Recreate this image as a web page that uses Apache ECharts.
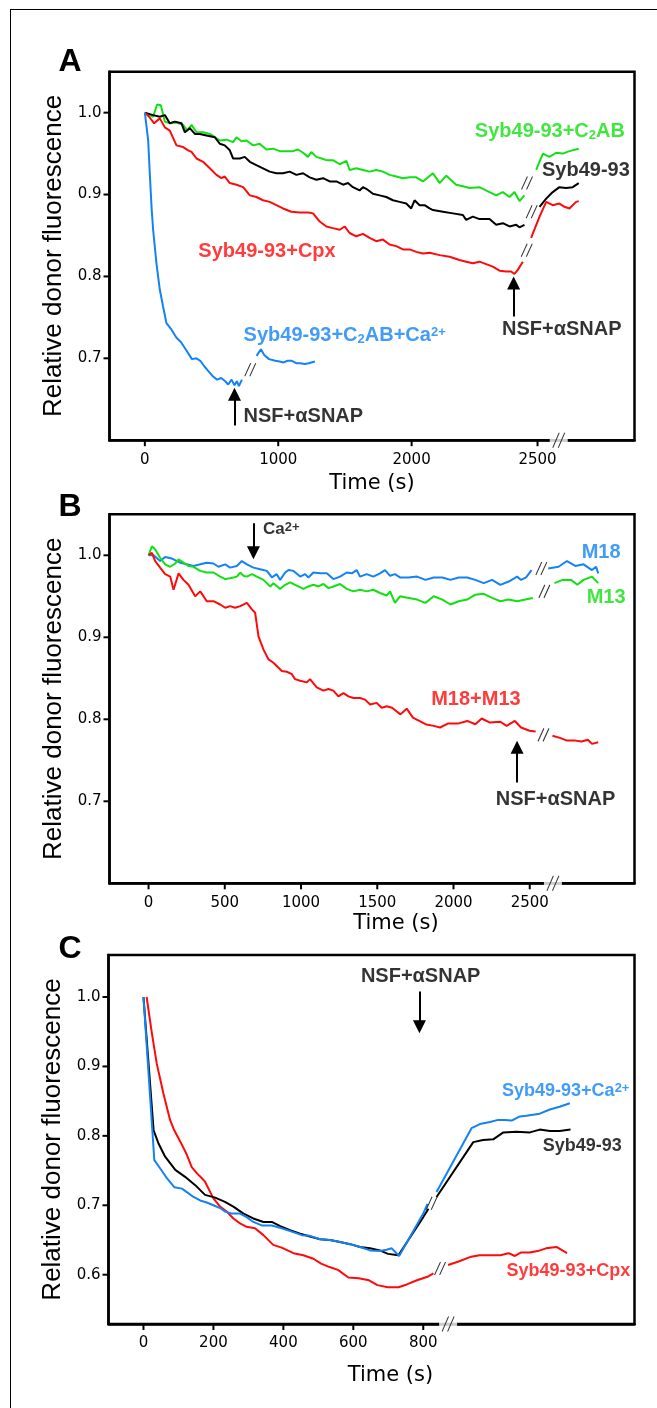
<!DOCTYPE html>
<html>
<head>
<meta charset="utf-8">
<script src="https://cdn.jsdelivr.net/npm/echarts@6/dist/echarts.min.js"></script>
<style>
  html, body { margin: 0; padding: 0; background: #fff; }
  #frame { position: absolute; left: 10px; top: 9px; width: 647px; height: 1399px;
    border-top: 1px solid #000; border-left: 1px solid #000; box-sizing: border-box; }
  #chart { position: absolute; left: 0; top: 0; width: 657px; height: 1408px; }
</style>
</head>
<body>
<div id="frame"></div>
<div id="chart"></div>
<script>
// colours of the traces
const GREEN = '#12e012';
const RED = '#ff0a0a';
const BLUE = '#1282f5';
const INK = '#000';

// ---------- panel A ----------
const aTickValues = [0, 1000, 2000, 2944];
const aTickLabels = ['0', '1000', '2000', '2500'];
const abYTicks = [0.7, 0.8, 0.9, 1.0];

const aGreenBefore = [[0,1.0],[62,0.995],[92,1.010],[120,1.009],[150,0.989],[187,0.987],[237,0.988],[287,0.985],[317,0.978],[350,0.985],[387,0.976],[437,0.976],[487,0.974],[525,0.970],[562,0.966],[612,0.967],[662,0.964],[687,0.970],[725,0.965],[762,0.966],[811,0.960],[861,0.962],[911,0.955],[961,0.956],[1011,0.953],[1061,0.953],[1111,0.953],[1148,0.955],[1186,0.951],[1223,0.946],[1248,0.952],[1286,0.946],[1325,0.944],[1361,0.942],[1410,0.942],[1461,0.937],[1511,0.941],[1535,0.930],[1585,0.932],[1635,0.930],[1685,0.928],[1735,0.930],[1785,0.928],[1835,0.924],[1885,0.922],[1935,0.920],[1985,0.921],[2035,0.921],[2085,0.916],[2160,0.926],[2210,0.914],[2260,0.923],[2334,0.912],[2384,0.910],[2434,0.908],[2509,0.909],[2584,0.903],[2634,0.899],[2684,0.903],[2734,0.897],[2771,0.903],[2809,0.892],[2846,0.899]];
const aGreenAfter = [[2934,0.930],[2984,0.950],[3033,0.946],[3083,0.951],[3133,0.950],[3183,0.953],[3253,0.956]];

const aBlackBefore = [[0,1.0],[62,0.997],[112,0.995],[150,0.997],[187,0.987],[225,0.989],[275,0.987],[300,0.976],[337,0.981],[375,0.974],[412,0.974],[462,0.972],[524,0.970],[562,0.962],[599,0.960],[637,0.954],[662,0.944],[712,0.944],[749,0.946],[787,0.940],[836,0.936],[886,0.932],[936,0.928],[986,0.926],[1036,0.926],[1086,0.928],[1136,0.924],[1186,0.926],[1236,0.921],[1286,0.918],[1336,0.920],[1386,0.916],[1436,0.916],[1486,0.912],[1523,0.914],[1560,0.909],[1610,0.905],[1635,0.909],[1660,0.907],[1710,0.901],[1760,0.899],[1810,0.897],[1860,0.893],[1910,0.891],[1960,0.889],[1997,0.883],[2022,0.893],[2060,0.887],[2097,0.887],[2135,0.883],[2160,0.881],[2235,0.879],[2310,0.877],[2384,0.875],[2409,0.869],[2459,0.873],[2509,0.870],[2584,0.870],[2634,0.863],[2684,0.865],[2734,0.861],[2784,0.863],[2809,0.860],[2846,0.863]];
const aBlackAfter = [[2959,0.885],[3009,0.895],[3058,0.903],[3108,0.909],[3158,0.908],[3208,0.909],[3253,0.914]];

const aRedBefore = [[0,1.0],[32,0.995],[70,0.987],[112,0.993],[150,0.982],[187,0.978],[237,0.960],[287,0.958],[325,0.954],[350,0.952],[387,0.944],[437,0.940],[487,0.932],[537,0.924],[574,0.920],[599,0.922],[637,0.914],[687,0.912],[737,0.909],[787,0.899],[836,0.897],[886,0.893],[936,0.891],[986,0.887],[1036,0.883],[1098,0.879],[1161,0.878],[1223,0.878],[1261,0.877],[1311,0.867],[1361,0.861],[1410,0.859],[1461,0.857],[1498,0.861],[1535,0.853],[1585,0.849],[1635,0.852],[1685,0.847],[1735,0.843],[1785,0.845],[1835,0.839],[1885,0.837],[1935,0.833],[1985,0.833],[2035,0.830],[2085,0.828],[2135,0.829],[2210,0.826],[2285,0.824],[2359,0.820],[2409,0.818],[2459,0.816],[2509,0.818],[2559,0.815],[2609,0.812],[2659,0.807],[2709,0.806],[2746,0.806],[2771,0.803],[2796,0.808],[2834,0.818]];
const aRedAfter = [[2896,0.847],[2959,0.873],[3009,0.891],[3058,0.887],[3108,0.889],[3146,0.885],[3183,0.883],[3233,0.891],[3253,0.892]];

const aBlueBefore = [[0,1.0],[25,0.966],[37,0.926],[50,0.885],[62,0.857],[87,0.816],[112,0.784],[137,0.763],[162,0.743],[200,0.735],[237,0.725],[270,0.720],[306,0.711],[353,0.699],[385,0.700],[416,0.697],[447,0.690],[478,0.684],[510,0.678],[541,0.674],[572,0.676],[603,0.672],[625,0.668],[650,0.674],[672,0.667],[690,0.672],[705,0.666],[728,0.674]];
const aBlueAfter = [[838,0.703],[870,0.711],[895,0.704],[931,0.699],[978,0.697],[1010,0.696],[1040,0.695],[1070,0.697],[1103,0.697],[1135,0.694],[1165,0.694],[1200,0.693],[1228,0.694],[1275,0.696]];

const aBreaks = [[790,0.686],[2865,0.914],[2900,0.879],[2863,0.832]];

// ---------- panel B ----------
const bTickValues = [0, 500, 1000, 1500, 2000, 2500];
const bTickLabels = ['0', '500', '1000', '1500', '2000', '2500'];

const bBlueBefore = [[0,1.0],[33,1.0],[76,0.993],[109,0.998],[153,0.996],[208,0.991],[251,0.989],[295,0.987],[339,0.989],[382,0.991],[426,0.990],[459,0.986],[503,0.989],[535,0.985],[579,0.987],[612,0.993],[645,0.989],[688,0.985],[732,0.983],[776,0.981],[809,0.973],[841,0.977],[863,0.970],[896,0.979],[918,0.982],[951,0.981],[994,0.974],[1027,0.977],[1048,0.973],[1081,0.979],[1125,0.978],[1169,0.978],[1212,0.971],[1256,0.974],[1300,0.979],[1333,0.978],[1365,0.982],[1387,0.974],[1431,0.977],[1474,0.974],[1518,0.978],[1551,0.982],[1584,0.975],[1616,0.977],[1649,0.973],[1706,0.973],[1761,0.974],[1816,0.970],[1870,0.973],[1927,0.973],[1980,0.970],[2034,0.973],[2090,0.973],[2143,0.970],[2198,0.966],[2253,0.970],[2307,0.964],[2362,0.968],[2417,0.974],[2443,0.970],[2476,0.973],[2512,0.982]];
const bBlueAfter = [[2621,0.984],[2689,0.986],[2744,0.993],[2799,0.987],[2853,0.989],[2908,0.982],[2935,0.986],[2949,0.978]];

const bGreenBefore = [[0,1.0],[22,1.011],[44,1.007],[76,0.997],[109,0.989],[142,0.986],[175,0.990],[197,0.995],[229,0.991],[262,0.987],[295,0.986],[339,0.981],[382,0.979],[426,0.979],[470,0.974],[503,0.971],[535,0.972],[579,0.974],[601,0.979],[623,0.975],[645,0.974],[678,0.977],[710,0.974],[754,0.970],[798,0.962],[819,0.966],[863,0.959],[896,0.964],[929,0.967],[972,0.963],[1016,0.959],[1048,0.962],[1081,0.964],[1114,0.962],[1147,0.965],[1180,0.960],[1212,0.962],[1256,0.965],[1300,0.959],[1343,0.956],[1387,0.958],[1431,0.956],[1474,0.958],[1518,0.954],[1562,0.951],[1584,0.956],[1616,0.942],[1649,0.950],[1706,0.948],[1761,0.946],[1816,0.942],[1870,0.950],[1927,0.946],[1980,0.940],[2034,0.944],[2090,0.946],[2143,0.952],[2198,0.953],[2253,0.948],[2307,0.944],[2362,0.946],[2417,0.944],[2471,0.946],[2520,0.948]];
const bGreenAfter = [[2662,0.966],[2716,0.970],[2771,0.970],[2812,0.964],[2853,0.970],[2908,0.974],[2949,0.966]];

const bRedBefore = [[0,1.0],[22,1.003],[44,0.993],[76,0.985],[109,0.977],[142,0.974],[164,0.958],[197,0.978],[229,0.970],[262,0.964],[306,0.950],[339,0.956],[382,0.944],[426,0.944],[470,0.940],[503,0.936],[535,0.938],[568,0.936],[601,0.938],[645,0.942],[678,0.934],[699,0.930],[721,0.901],[754,0.885],[787,0.873],[819,0.869],[874,0.859],[907,0.858],[940,0.855],[961,0.849],[994,0.847],[1038,0.845],[1059,0.849],[1103,0.839],[1147,0.835],[1180,0.837],[1212,0.835],[1245,0.828],[1278,0.832],[1311,0.828],[1343,0.826],[1387,0.826],[1420,0.824],[1453,0.818],[1496,0.820],[1529,0.814],[1562,0.816],[1597,0.814],[1652,0.806],[1693,0.813],[1734,0.802],[1816,0.794],[1870,0.792],[1912,0.790],[1966,0.795],[2034,0.795],[2090,0.798],[2143,0.794],[2185,0.801],[2239,0.796],[2307,0.797],[2348,0.792],[2402,0.798],[2443,0.790],[2499,0.786],[2539,0.785]];
const bRedAfter = [[2649,0.780],[2703,0.777],[2744,0.774],[2799,0.774],[2840,0.773],[2881,0.775],[2908,0.770],[2949,0.772]];

const bBreaks = [[2576,0.984],[2596,0.956],[2590,0.781]];

// ---------- panel C ----------
const cTickValues = [0, 200, 400, 600, 800];
const cTickLabels = ['0', '200', '400', '600', '800'];
const cYTicks = [0.6, 0.7, 0.8, 0.9, 1.0];

const cBlackBefore = [[0,1.0],[29,0.808],[43,0.789],[62,0.770],[91,0.751],[119,0.741],[148,0.729],[176,0.715],[205,0.711],[233,0.705],[257,0.698],[286,0.688],[314,0.681],[343,0.676],[367,0.676],[391,0.670],[419,0.664],[448,0.659],[476,0.655],[505,0.651],[533,0.650],[562,0.647],[591,0.644],[619,0.640],[648,0.638],[676,0.635],[699,0.630],[729,0.628],[800,0.683],[815,0.695]];
const cBlackAfter = [[838,0.712],[943,0.791],[971,0.794],[1000,0.795],[1029,0.805],[1067,0.806],[1105,0.805],[1133,0.809],[1162,0.807],[1190,0.807],[1221,0.809]];

const cBlueBefore = [[0,1.0],[31,0.765],[48,0.753],[67,0.739],[88,0.726],[110,0.724],[124,0.719],[143,0.712],[162,0.707],[181,0.704],[200,0.700],[219,0.696],[233,0.691],[253,0.688],[276,0.688],[295,0.683],[314,0.676],[338,0.671],[367,0.671],[395,0.667],[424,0.662],[453,0.657],[476,0.656],[505,0.651],[533,0.650],[562,0.647],[591,0.644],[619,0.640],[648,0.635],[676,0.634],[695,0.636],[710,0.638],[731,0.627],[800,0.688],[812,0.702]];
const cBlueAfter = [[838,0.719],[938,0.811],[962,0.817],[991,0.820],[1014,0.823],[1033,0.823],[1053,0.822],[1076,0.828],[1095,0.829],[1133,0.832],[1162,0.838],[1190,0.842],[1219,0.847]];

const cRedBefore = [[9,1.0],[24,0.948],[38,0.904],[57,0.861],[76,0.823],[88,0.808],[105,0.792],[122,0.775],[138,0.755],[153,0.746],[167,0.739],[176,0.734],[200,0.710],[219,0.698],[238,0.691],[257,0.681],[276,0.674],[295,0.669],[319,0.667],[343,0.657],[371,0.643],[395,0.639],[429,0.631],[457,0.628],[486,0.623],[508,0.616],[532,0.611],[556,0.607],[586,0.596],[615,0.595],[645,0.592],[669,0.585],[699,0.582],[729,0.582],[753,0.586],[782,0.592],[812,0.597],[829,0.602]];
const cRedAfter = [[871,0.614],[901,0.619],[937,0.626],[961,0.628],[991,0.628],[1020,0.628],[1044,0.631],[1062,0.627],[1080,0.632],[1104,0.632],[1127,0.634],[1151,0.638],[1181,0.640],[1211,0.631]];

const cBreaks = [[824,0.703],[848,0.609]];

// ---------- helpers ----------
const SLASH = 'path://M0,13L7,0M6,13L13,0';
const RICH = {
  sub: { fontSize: 13, fontWeight: 'bold', verticalAlign: 'bottom', lineHeight: 13 },
  sup: { fontSize: 13, fontWeight: 'bold', verticalAlign: 'top', lineHeight: 13 }
};

function trace(idx, data, color) {
  return {
    type: 'line', xAxisIndex: idx, yAxisIndex: idx, data: data,
    symbol: 'none', showSymbol: false, silent: true, z: 3,
    lineStyle: { color: color, width: 2 }, itemStyle: { color: color }
  };
}

function breakMarks(idx, data) {
  return {
    type: 'scatter', xAxisIndex: idx, yAxisIndex: idx, data: data, silent: true, z: 5,
    symbol: SLASH, symbolSize: [11, 13],
    itemStyle: { color: 'rgba(0,0,0,0)', borderColor: INK, borderWidth: 1.1 }
  };
}

function axisBreak(idx, t, v) {
  return [
    { type: 'scatter', xAxisIndex: idx, yAxisIndex: idx, data: [[t, v]], silent: true, clip: false, z: 6,
      symbol: 'rect', symbolSize: [18, 8], itemStyle: { color: '#fff' } },
    { type: 'scatter', xAxisIndex: idx, yAxisIndex: idx, data: [[t, v]], silent: true, clip: false, z: 7,
      symbol: SLASH, symbolSize: [12, 15],
      itemStyle: { color: 'rgba(0,0,0,0)', borderColor: INK, borderWidth: 1.1 } }
  ];
}

// outward tick marks on the frame, placed with the axes' own scales
function tickMarks(idx, xTicks, yTicks, xMin, yMin) {
  const pts = yTicks.map(v => [xMin, v, 0]).concat(xTicks.map(t => [t, yMin, 1]));
  return {
    type: 'custom', xAxisIndex: idx, yAxisIndex: idx, silent: true, clip: false, z: 9,
    data: pts,
    renderItem: function (params, api) {
      const p = api.coord([api.value(0), api.value(1)]);
      const onY = api.value(2) === 0;
      return {
        type: 'line',
        shape: onY ? { x1: p[0] - 6, y1: p[1], x2: p[0], y2: p[1] }
                   : { x1: p[0], y1: p[1], x2: p[0], y2: p[1] + 6 },
        style: { stroke: INK, lineWidth: 2 }
      };
    }
  };
}

function notes(idx, items, arrows) {
  return {
    type: 'scatter', xAxisIndex: idx, yAxisIndex: idx, silent: true, z: 8,
    symbolSize: 1, itemStyle: { color: 'rgba(0,0,0,0)' },
    data: items.map(n => ({
      value: [n[0], n[1]],
      label: {
        show: true, position: [0, 0], align: n[4], verticalAlign: 'middle',
        formatter: n[2], color: n[3], fontSize: n[5], fontWeight: 'bold',
        fontFamily: 'Liberation Sans', rich: RICH
      }
    })),
    markLine: {
      silent: true, animation: false, symbol: ['none', 'triangle'], symbolSize: 13,
      lineStyle: { color: INK, width: 2, type: 'solid' }, label: { show: false },
      data: arrows.map(a => [{ coord: [a[0], a[1]] }, { coord: [a[0], a[2]] }])
    }
  };
}

const axisLineStyle = { show: true, onZero: false, lineStyle: { color: INK, width: 2.5 } };

function xAxis(idx, min, max, ticks, labels, shift, gap) {
  return {
    type: 'value', gridIndex: idx, min: min, max: max,
    name: 'Time (s)', nameLocation: 'middle', nameGap: gap,
    nameTextStyle: { fontFamily: 'DejaVu Sans', fontSize: 21, color: INK, padding: [0, 0, 0, shift] },
    axisLine: axisLineStyle, splitLine: { show: false }, axisTick: { show: false },
    axisLabel: { customValues: ticks, formatter: v => labels[ticks.indexOf(v)],
      fontFamily: 'DejaVu Sans', fontSize: 15, color: INK, margin: 12 }
  };
}

function yAxis(idx, min, max, ticks) {
  return {
    type: 'value', gridIndex: idx, min: min, max: max,
    name: 'Relative donor fluorescence', nameLocation: 'middle', nameGap: 35, nameRotate: 90,
    nameTextStyle: { fontFamily: 'Liberation Sans', fontSize: 26, color: INK },
    axisLine: axisLineStyle, splitLine: { show: false }, axisTick: { show: false },
    axisLabel: { customValues: ticks, formatter: v => v.toFixed(1),
      fontFamily: 'DejaVu Sans', fontSize: 15, color: INK, margin: 8 }
  };
}

const box = { show: true, borderColor: INK, borderWidth: 2.5, backgroundColor: 'transparent', outerBoundsMode: 'none' };

const chart = echarts.init(document.getElementById('chart'), null, { renderer: 'canvas' });
chart.setOption({
  animation: false,
  backgroundColor: 'transparent',
  grid: [
    Object.assign({ left: 109.5, top: 71.7, width: 525, height: 368.5 }, box),
    Object.assign({ left: 109.5, top: 514.3, width: 525, height: 369 }, box),
    Object.assign({ left: 108.5, top: 955, width: 526, height: 369 }, box)
  ],
  xAxis: [
    xAxis(0, -265, 3671, aTickValues, aTickLabels, 0, 33),
    xAxis(1, -256, 3187, bTickValues, bTickLabels, 48, 30),
    xAxis(2, -100, 1404, cTickValues, cTickLabels, 38, 41)
  ],
  yAxis: [
    yAxis(0, 0.6, 1.05, abYTicks),
    yAxis(1, 0.6, 1.05, abYTicks),
    yAxis(2, 0.529, 1.0605, cYTicks)
  ],
  graphic: [
    { type: 'text', x: 70, y: 62, style: { text: 'A', fontFamily: 'Liberation Sans', fontWeight: 'bold', fontSize: 32, fill: INK, align: 'center', verticalAlign: 'middle' } },
    { type: 'text', x: 70, y: 507, style: { text: 'B', fontFamily: 'Liberation Sans', fontWeight: 'bold', fontSize: 32, fill: INK, align: 'center', verticalAlign: 'middle' } },
    { type: 'text', x: 70, y: 949, style: { text: 'C', fontFamily: 'Liberation Sans', fontWeight: 'bold', fontSize: 32, fill: INK, align: 'center', verticalAlign: 'middle' } }
  ],
  series: [
    trace(0, aGreenBefore, GREEN), trace(0, aGreenAfter, GREEN),
    trace(0, aBlackBefore, INK), trace(0, aBlackAfter, INK),
    trace(0, aRedBefore, RED), trace(0, aRedAfter, RED),
    trace(0, aBlueBefore, BLUE), trace(0, aBlueAfter, BLUE),
    breakMarks(0, aBreaks),
    tickMarks(0, aTickValues, abYTicks, -265, 0.6),
    ...axisBreak(0, 3103, 0.6),
    notes(0, [
      [3603, 0.976, 'Syb49-93+C{sub|2}AB', GREEN, 'right', 20],
      [3640, 0.929, 'Syb49-93', INK, 'right', 20],
      [405, 0.830, 'Syb49-93+Cpx', RED, 'left', 20],
      [744, 0.727, 'Syb49-93+C{sub|2}AB+Ca{sup|2+}', BLUE, 'left', 20],
      [2681, 0.735, 'NSF+αSNAP', INK, 'left', 20],
      [744, 0.628, 'NSF+αSNAP', INK, 'left', 20]
    ], [[2765, 0.751, 0.792], [672, 0.618, 0.656]]),

    trace(1, bBlueBefore, BLUE), trace(1, bBlueAfter, BLUE),
    trace(1, bGreenBefore, GREEN), trace(1, bGreenAfter, GREEN),
    trace(1, bRedBefore, RED), trace(1, bRedAfter, RED),
    breakMarks(1, bBreaks),
    tickMarks(1, bTickValues, abYTicks, -256, 0.6),
    ...axisBreak(1, 2652, 0.6),
    notes(1, [
      [754, 1.031, 'Ca{sup|2+}', INK, 'left', 17],
      [3099, 1.003, 'M18', BLUE, 'right', 20],
      [3132, 0.948, 'M13', GREEN, 'right', 20],
      [1857, 0.824, 'M18+M13', RED, 'left', 20],
      [2280, 0.701, 'NSF+αSNAP', INK, 'left', 20]
    ], [[688, 1.039, 1.003], [2417, 0.723, 0.766]]),

    trace(2, cRedBefore, RED), trace(2, cRedAfter, RED),
    trace(2, cBlackBefore, INK), trace(2, cBlackAfter, INK),
    trace(2, cBlueBefore, BLUE), trace(2, cBlueAfter, BLUE),
    breakMarks(2, cBreaks),
    tickMarks(2, cTickValues, cYTicks, -100, 0.529),
    ...axisBreak(2, 871, 0.529),
    notes(2, [
      [794, 1.029, 'NSF+αSNAP', INK, 'center', 20],
      [1391, 0.864, 'Syb49-93+Ca{sup|2+}', BLUE, 'right', 18],
      [1143, 0.784, 'Syb49-93', INK, 'left', 18],
      [1393, 0.604, 'Syb49-93+Cpx', RED, 'right', 18]
    ], [[789, 1.008, 0.957]])
  ]
});
</script>
</body>
</html>
